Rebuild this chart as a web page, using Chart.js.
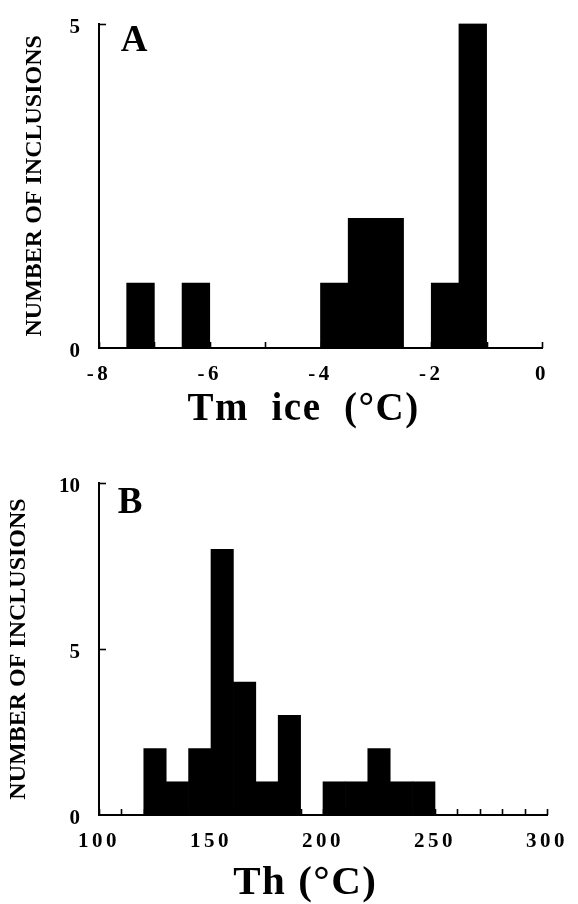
<!DOCTYPE html>
<html><head><meta charset="utf-8">
<script src="https://cdn.jsdelivr.net/npm/chart.js@4.4.0/dist/chart.umd.min.js"></script>
<style>
html,body{margin:0;padding:0;background:#fff;}
#wrap{position:relative;width:578px;height:904px;}
canvas{position:absolute;left:0;}
#chart-a{top:0}
#chart-b{top:452px}
</style></head><body>
<div id="wrap">
<canvas id="chart-a" width="578" height="440"></canvas>
<canvas id="chart-b" width="578" height="452"></canvas>
</div>
<script>
// A: Tm ice, 0.5 degree bins (bin centres)
const tmCentres=[-7.75,-7.25,-6.75,-6.25,-5.75,-5.25,-4.75,-4.25,-3.75,-3.25,-2.75,-2.25,-1.75,-1.25,-0.75,-0.25];
const tmCounts=[0,1,0,1,0,0,0,0,1,2,2,0,1,5,0,0];
const tmTicks=[-8,-6,-4,-2,0];
const tmCountTicks=[0,5];
// B: Th, 10 degree bins
const thCentres=[105,115,125,135,145,155,165,175,185,195,205,215,225,235,245,255,265,275,285,295];
const thCounts=[0,0,2,1,2,8,4,1,3,0,1,1,2,1,1,0,0,0,0,0];
const thTicks=[100,150,200,250,300];
const thCountTicks=[0,5,10];

const SERIF="'Liberation Serif','Times New Roman',serif";
Chart.defaults.animation=false;
Chart.defaults.color='#000';

// letter spacing per piece of text (canvas letterSpacing)
const spacing={
  id:'spacing',
  beforeDraw(chart){
    Object.values(chart.scales).forEach(s=>{
      if(s._spaced)return;s._spaced=true;
      const dl=s.drawLabels.bind(s),dt=s.drawTitle.bind(s);
      s.drawLabels=a=>{chart.ctx.letterSpacing=s.axis==='x'?'3.5px':'0px';dl(a);chart.ctx.letterSpacing='0px'};
      s.drawTitle=()=>{chart.ctx.letterSpacing=s.axis==='x'?'1.5px':'0px';dt();chart.ctx.letterSpacing='0px'};
    });
  }
};

const marks={
  id:'marks',
  afterDraw(chart,args,o){
    const ctx=chart.ctx,xs=chart.scales.x,ys=chart.scales.y;
    ctx.save();ctx.strokeStyle='#000';ctx.lineWidth=1.6;
    for(let v=xs.min;v<=xs.max+1e-9;v+=o.step){
      const px=Math.round(xs.getPixelForValue(v))+.5;
      ctx.beginPath();ctx.moveTo(px,ys.bottom);ctx.lineTo(px,ys.bottom-6);ctx.stroke();
    }
    o.yMarks.forEach(v=>{
      const py=Math.round(ys.getPixelForValue(v))+.5;
      ctx.beginPath();ctx.moveTo(xs.left,py);ctx.lineTo(xs.left+7,py);ctx.stroke();
    });
    ctx.letterSpacing='0px';
    ctx.fillStyle='#000';ctx.font=`bold 37px ${SERIF}`;ctx.textAlign='center';ctx.textBaseline='middle';
    ctx.fillText(o.letter,xs.left+o.lx,ys.top+o.ly);
    ctx.restore();
  }
};

function hist(id,cfg){
  return new Chart(document.getElementById(id),{
    type:'bar',
    data:{datasets:[{data:cfg.centres.map((c,i)=>({x:c,y:cfg.counts[i]})),backgroundColor:'#000',borderWidth:0,barPercentage:1,categoryPercentage:1,grouped:false}]},
    options:{
      responsive:false,
      layout:{padding:cfg.pad},
      plugins:{legend:{display:false},tooltip:{enabled:false},marks:cfg.marks},
      scales:{
        x:{type:'linear',min:cfg.xmin,max:cfg.xmax,offset:false,
          afterBuildTicks:s=>{s.ticks=cfg.xTicks.map(v=>({value:v}))},
          afterFit:s=>{s.height=cfg.xh},
          grid:{display:false,offset:false},border:{display:true,color:'#000',width:2},
          ticks:{color:'#000',font:{family:SERIF,size:21,weight:'bold'},padding:cfg.xtp,maxRotation:0,autoSkip:false},
          title:{display:true,text:cfg.xTitle,color:'#000',font:{family:SERIF,size:cfg.xtSize,weight:'bold',lineHeight:1},padding:{top:0,bottom:cfg.xtPad}}},
        y:{type:'linear',min:0,max:cfg.ymax,
          afterBuildTicks:s=>{s.ticks=cfg.yTicks.map(v=>({value:v}))},
          afterFit:s=>{s.width=99},
          grid:{display:false},border:{display:true,color:'#000',width:2},
          ticks:{color:'#000',font:{family:SERIF,size:21,weight:'bold'},padding:11,labelOffset:4},
          title:{display:true,text:'NUMBER OF INCLUSIONS',color:'#000',font:{family:SERIF,size:24,weight:'bold',lineHeight:1},padding:{top:cfg.ytPad,bottom:0}}}
      }
    },
    plugins:[spacing,marks]
  });
}

hist('chart-a',{centres:tmCentres,counts:tmCounts,xTicks:tmTicks,yTicks:tmCountTicks,
  xmin:-8,xmax:0,ymax:5,pad:{left:0,top:12,right:36,bottom:0},xh:92,xtp:6,
  xTitle:'Tm  ice  (°C)   ',xtSize:39,xtPad:11,ytPad:23,
  marks:{step:1,yMarks:[5],letter:'A',lx:35,ly:18}});

hist('chart-b',{centres:thCentres,counts:thCounts,xTicks:thTicks,yTicks:thCountTicks,
  xmin:100,xmax:300,ymax:10,pad:{left:0,top:31,right:31,bottom:0},xh:89,xtp:6,
  xTitle:'Th (°C)   ',xtSize:41,xtPad:0,ytPad:7,
  marks:{step:10,yMarks:[5,10],letter:'B',lx:31,ly:20}});
</script>
</body></html>
